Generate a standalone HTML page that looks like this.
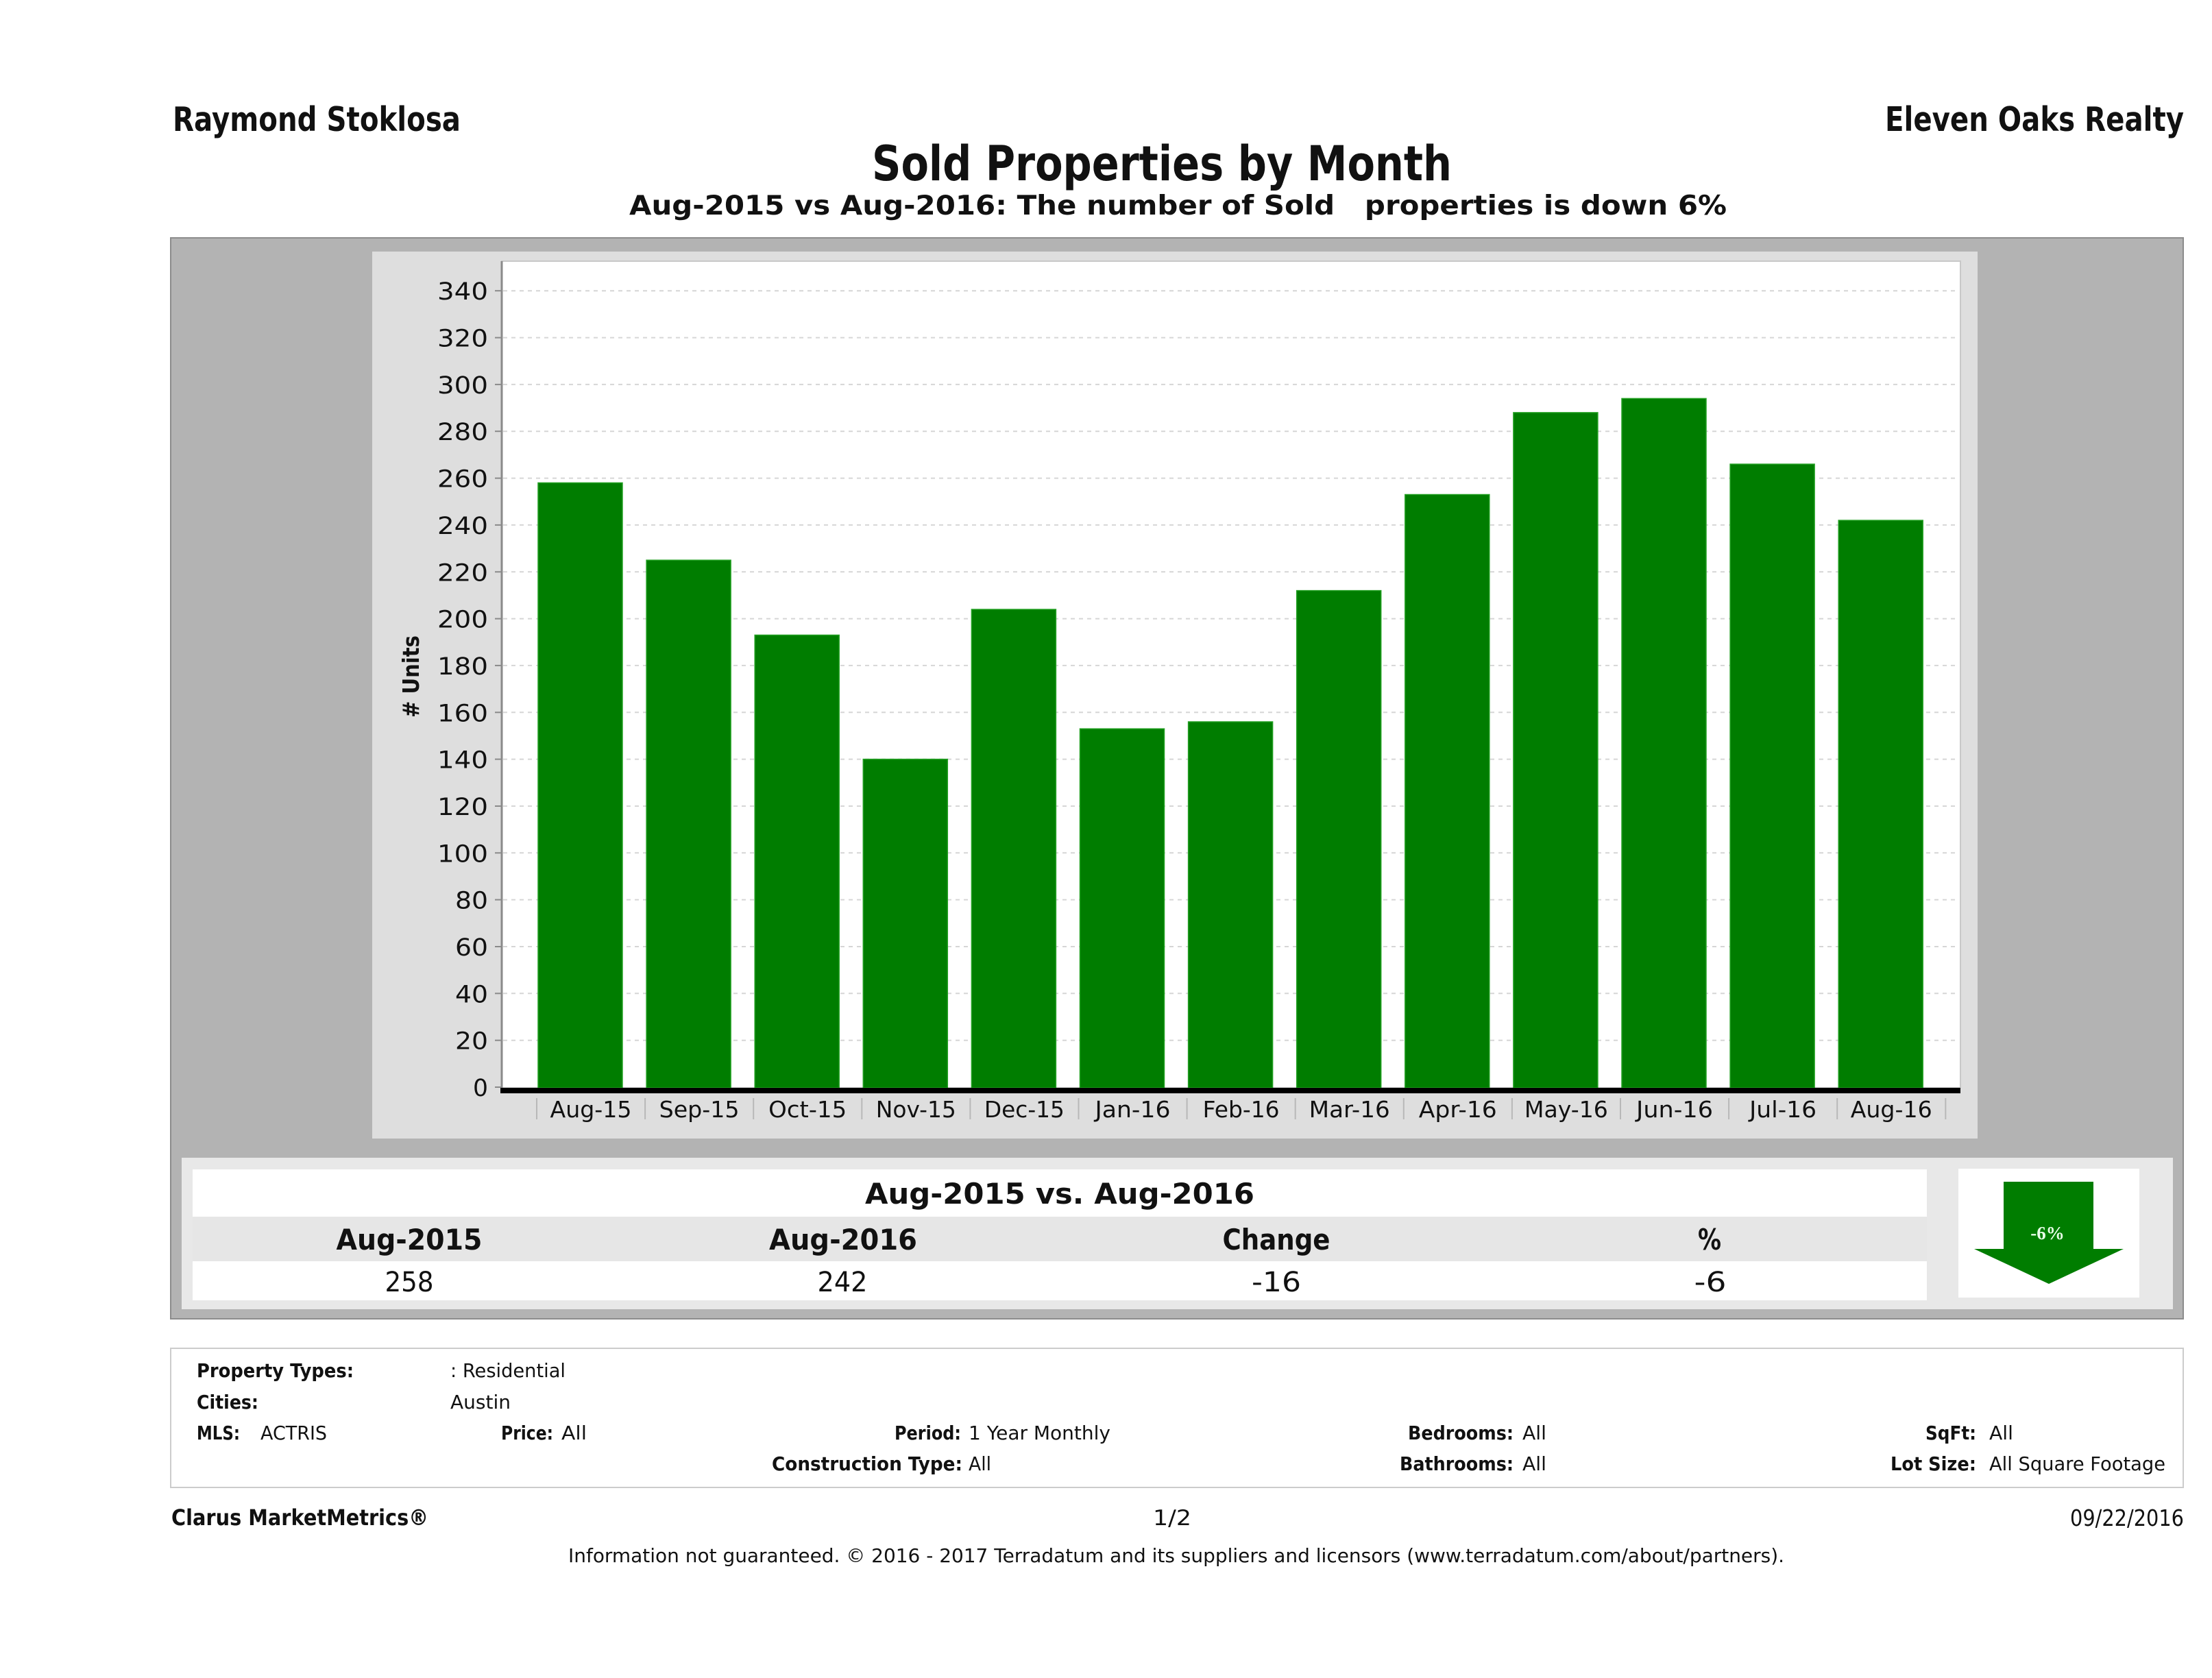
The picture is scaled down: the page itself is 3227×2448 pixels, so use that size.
<!DOCTYPE html>
<html>
<head>
<meta charset="utf-8">
<style>
html,body{margin:0;padding:0;background:#fff;}
svg{display:block;}
text{font-family:"DejaVu Sans","Liberation Sans",sans-serif;fill:#111;}
.b{font-weight:bold;}
</style>
</head>
<body>
<svg width="3227" height="2448" viewBox="0 0 3227 2448" xmlns="http://www.w3.org/2000/svg">
<rect x="0" y="0" width="3227" height="2448" fill="#ffffff"/>

<!-- Header -->
<text class="b" x="252" y="191" font-size="49" textLength="420" lengthAdjust="spacingAndGlyphs">Raymond Stoklosa</text>
<text class="b" x="2750" y="191" font-size="49" textLength="436" lengthAdjust="spacingAndGlyphs">Eleven Oaks Realty</text>
<text class="b" x="1272" y="263" font-size="70" textLength="846" lengthAdjust="spacingAndGlyphs">Sold Properties by Month</text>
<text class="b" x="918" y="313" font-size="39" textLength="1601" lengthAdjust="spacingAndGlyphs" xml:space="preserve">Aug-2015 vs Aug-2016: The number of Sold   properties is down 6%</text>

<!-- Outer gray panel -->
<rect x="249" y="347" width="2936" height="1577" fill="#b3b3b3" stroke="#8c8c8c" stroke-width="2"/>

<!-- Chart light panel -->
<rect x="543" y="367" width="2342" height="1294" fill="#dedede"/>

<!-- Plot area -->
<rect x="732" y="381" width="2128" height="1206" fill="#ffffff" stroke="#c8c8c8" stroke-width="2"/>

<!-- Gridlines -->
<g stroke="#d6d6d6" stroke-width="2" stroke-dasharray="6 6">
<line x1="734" x2="2858" y1="1517.7" y2="1517.7"/>
<line x1="734" x2="2858" y1="1449.3" y2="1449.3"/>
<line x1="734" x2="2858" y1="1381.0" y2="1381.0"/>
<line x1="734" x2="2858" y1="1312.6" y2="1312.6"/>
<line x1="734" x2="2858" y1="1244.3" y2="1244.3"/>
<line x1="734" x2="2858" y1="1176.0" y2="1176.0"/>
<line x1="734" x2="2858" y1="1107.6" y2="1107.6"/>
<line x1="734" x2="2858" y1="1039.3" y2="1039.3"/>
<line x1="734" x2="2858" y1="970.9" y2="970.9"/>
<line x1="734" x2="2858" y1="902.6" y2="902.6"/>
<line x1="734" x2="2858" y1="834.3" y2="834.3"/>
<line x1="734" x2="2858" y1="765.9" y2="765.9"/>
<line x1="734" x2="2858" y1="697.6" y2="697.6"/>
<line x1="734" x2="2858" y1="629.2" y2="629.2"/>
<line x1="734" x2="2858" y1="560.9" y2="560.9"/>
<line x1="734" x2="2858" y1="492.6" y2="492.6"/>
<line x1="734" x2="2858" y1="424.2" y2="424.2"/>
</g>

<!-- Bars -->
<g fill="#007d00" stroke="#22a022" stroke-width="1.5">
<rect x="785" y="704.4" width="123" height="882.6"/>
<rect x="943.1" y="817.2" width="123" height="769.8"/>
<rect x="1101.2" y="926.5" width="123" height="660.5"/>
<rect x="1259.3" y="1107.6" width="123" height="479.4"/>
<rect x="1417.4" y="889.0" width="123" height="698.0"/>
<rect x="1575.5" y="1063.2" width="123" height="523.8"/>
<rect x="1733.6" y="1053.0" width="123" height="534.0"/>
<rect x="1891.7" y="861.6" width="123" height="725.4"/>
<rect x="2049.8" y="721.5" width="123" height="865.5"/>
<rect x="2207.9" y="601.9" width="123" height="985.1"/>
<rect x="2366.0" y="581.4" width="123" height="1005.6"/>
<rect x="2524.1" y="677.1" width="123" height="909.9"/>
<rect x="2682.2" y="759.1" width="123" height="827.9"/>
</g>

<!-- Y axis line and ticks -->
<line x1="732" y1="381" x2="732" y2="1595" stroke="#8a8a8a" stroke-width="3"/>
<g stroke="#8a8a8a" stroke-width="2">
<line x1="722" x2="732" y1="1586" y2="1586"/>
<line x1="722" x2="732" y1="1517.7" y2="1517.7"/>
<line x1="722" x2="732" y1="1449.3" y2="1449.3"/>
<line x1="722" x2="732" y1="1381.0" y2="1381.0"/>
<line x1="722" x2="732" y1="1312.6" y2="1312.6"/>
<line x1="722" x2="732" y1="1244.3" y2="1244.3"/>
<line x1="722" x2="732" y1="1176.0" y2="1176.0"/>
<line x1="722" x2="732" y1="1107.6" y2="1107.6"/>
<line x1="722" x2="732" y1="1039.3" y2="1039.3"/>
<line x1="722" x2="732" y1="970.9" y2="970.9"/>
<line x1="722" x2="732" y1="902.6" y2="902.6"/>
<line x1="722" x2="732" y1="834.3" y2="834.3"/>
<line x1="722" x2="732" y1="765.9" y2="765.9"/>
<line x1="722" x2="732" y1="697.6" y2="697.6"/>
<line x1="722" x2="732" y1="629.2" y2="629.2"/>
<line x1="722" x2="732" y1="560.9" y2="560.9"/>
<line x1="722" x2="732" y1="492.6" y2="492.6"/>
<line x1="722" x2="732" y1="424.2" y2="424.2"/>
</g>

<!-- Y labels -->
<g font-size="35" text-anchor="end" fill="#1a1a1a">
<text x="712" y="1599" textLength="22" lengthAdjust="spacingAndGlyphs">0</text>
<text x="712" y="1530.7" textLength="48" lengthAdjust="spacingAndGlyphs">20</text>
<text x="712" y="1462.3" textLength="48" lengthAdjust="spacingAndGlyphs">40</text>
<text x="712" y="1394.0" textLength="48" lengthAdjust="spacingAndGlyphs">60</text>
<text x="712" y="1325.6" textLength="48" lengthAdjust="spacingAndGlyphs">80</text>
<text x="712" y="1257.3" textLength="74" lengthAdjust="spacingAndGlyphs">100</text>
<text x="712" y="1189.0" textLength="74" lengthAdjust="spacingAndGlyphs">120</text>
<text x="712" y="1120.6" textLength="74" lengthAdjust="spacingAndGlyphs">140</text>
<text x="712" y="1052.3" textLength="74" lengthAdjust="spacingAndGlyphs">160</text>
<text x="712" y="983.9" textLength="74" lengthAdjust="spacingAndGlyphs">180</text>
<text x="712" y="915.6" textLength="74" lengthAdjust="spacingAndGlyphs">200</text>
<text x="712" y="847.3" textLength="74" lengthAdjust="spacingAndGlyphs">220</text>
<text x="712" y="778.9" textLength="74" lengthAdjust="spacingAndGlyphs">240</text>
<text x="712" y="710.6" textLength="74" lengthAdjust="spacingAndGlyphs">260</text>
<text x="712" y="642.2" textLength="74" lengthAdjust="spacingAndGlyphs">280</text>
<text x="712" y="573.9" textLength="74" lengthAdjust="spacingAndGlyphs">300</text>
<text x="712" y="505.6" textLength="74" lengthAdjust="spacingAndGlyphs">320</text>
<text x="712" y="437.2" textLength="74" lengthAdjust="spacingAndGlyphs">340</text>
</g>

<!-- Y axis title -->
<text class="b" font-size="33" text-anchor="middle" transform="translate(611,987) rotate(-90)" textLength="120" lengthAdjust="spacingAndGlyphs"># Units</text>

<!-- X axis thick line -->
<rect x="730" y="1587" width="2130" height="8" fill="#000"/>

<!-- Category ticks -->
<g stroke="#b8b8b8" stroke-width="2">
<line x1="783" x2="783" y1="1602" y2="1633"/>
<line x1="941.1" x2="941.1" y1="1602" y2="1633"/>
<line x1="1099.2" x2="1099.2" y1="1602" y2="1633"/>
<line x1="1257.3" x2="1257.3" y1="1602" y2="1633"/>
<line x1="1415.4" x2="1415.4" y1="1602" y2="1633"/>
<line x1="1573.5" x2="1573.5" y1="1602" y2="1633"/>
<line x1="1731.6" x2="1731.6" y1="1602" y2="1633"/>
<line x1="1889.7" x2="1889.7" y1="1602" y2="1633"/>
<line x1="2047.8" x2="2047.8" y1="1602" y2="1633"/>
<line x1="2205.9" x2="2205.9" y1="1602" y2="1633"/>
<line x1="2364.0" x2="2364.0" y1="1602" y2="1633"/>
<line x1="2522.1" x2="2522.1" y1="1602" y2="1633"/>
<line x1="2680.2" x2="2680.2" y1="1602" y2="1633"/>
<line x1="2838.3" x2="2838.3" y1="1602" y2="1633"/>
</g>

<!-- X labels -->
<g font-size="33" text-anchor="middle" fill="#1a1a1a">
<text x="862" y="1630" textLength="119" lengthAdjust="spacingAndGlyphs">Aug-15</text>
<text x="1020.1" y="1630" textLength="117" lengthAdjust="spacingAndGlyphs">Sep-15</text>
<text x="1178.2" y="1630" textLength="114" lengthAdjust="spacingAndGlyphs">Oct-15</text>
<text x="1336.3" y="1630" textLength="117" lengthAdjust="spacingAndGlyphs">Nov-15</text>
<text x="1494.4" y="1630" textLength="117" lengthAdjust="spacingAndGlyphs">Dec-15</text>
<text x="1652.5" y="1630" textLength="110" lengthAdjust="spacingAndGlyphs">Jan-16</text>
<text x="1810.6" y="1630" textLength="112" lengthAdjust="spacingAndGlyphs">Feb-16</text>
<text x="1968.7" y="1630" textLength="118" lengthAdjust="spacingAndGlyphs">Mar-16</text>
<text x="2126.8" y="1630" textLength="114" lengthAdjust="spacingAndGlyphs">Apr-16</text>
<text x="2284.9" y="1630" textLength="122" lengthAdjust="spacingAndGlyphs">May-16</text>
<text x="2443.0" y="1630" textLength="112" lengthAdjust="spacingAndGlyphs">Jun-16</text>
<text x="2601.1" y="1630" textLength="98" lengthAdjust="spacingAndGlyphs">Jul-16</text>
<text x="2759.2" y="1630" textLength="119" lengthAdjust="spacingAndGlyphs">Aug-16</text>
</g>

<!-- Summary panel -->
<rect x="265" y="1689" width="2905" height="221" fill="#e8e8e8"/>
<rect x="281" y="1706" width="2530" height="69" fill="#ffffff"/>
<rect x="281" y="1775" width="2530" height="65" fill="#e6e6e6"/>
<rect x="281" y="1840" width="2530" height="57" fill="#ffffff"/>

<text class="b" x="1546" y="1756" font-size="42" text-anchor="middle" textLength="568" lengthAdjust="spacingAndGlyphs">Aug-2015 vs. Aug-2016</text>

<g class="b" font-size="42" text-anchor="middle" font-weight="bold">
<text x="597" y="1823" textLength="213" lengthAdjust="spacingAndGlyphs">Aug-2015</text>
<text x="1230" y="1823" textLength="216" lengthAdjust="spacingAndGlyphs">Aug-2016</text>
<text x="1862" y="1823" textLength="157" lengthAdjust="spacingAndGlyphs">Change</text>
<text x="2494" y="1823" textLength="34" lengthAdjust="spacingAndGlyphs">%</text>
</g>

<g font-size="40" text-anchor="middle">
<text x="597" y="1884" textLength="71" lengthAdjust="spacingAndGlyphs">258</text>
<text x="1229" y="1884" textLength="73" lengthAdjust="spacingAndGlyphs">242</text>
<text x="1862" y="1884" textLength="72" lengthAdjust="spacingAndGlyphs">-16</text>
<text x="2495" y="1884" textLength="47" lengthAdjust="spacingAndGlyphs">-6</text>
</g>

<!-- Arrow box -->
<rect x="2857" y="1705" width="264" height="188" fill="#ffffff"/>
<polygon points="2923,1724 3054,1724 3054,1822 3098,1822 2989,1873 2880,1822 2923,1822" fill="#007d00"/>
<text x="2987" y="1808" font-size="27" text-anchor="middle" font-weight="bold" style="font-family:'Liberation Serif','DejaVu Serif',serif;fill:#e8ffe8;">-6%</text>

<!-- Info box -->
<rect x="249" y="1967" width="2936" height="203" fill="#ffffff" stroke="#cccccc" stroke-width="2"/>

<g font-size="28">
<text class="b" x="287" y="2009" textLength="229" lengthAdjust="spacingAndGlyphs">Property Types:</text>
<text x="657" y="2009" textLength="168" lengthAdjust="spacingAndGlyphs">: Residential</text>

<text class="b" x="287" y="2055" textLength="90" lengthAdjust="spacingAndGlyphs">Cities:</text>
<text x="657" y="2055" textLength="88" lengthAdjust="spacingAndGlyphs">Austin</text>

<text class="b" x="287" y="2100" textLength="63" lengthAdjust="spacingAndGlyphs">MLS:</text>
<text x="380" y="2100" textLength="97" lengthAdjust="spacingAndGlyphs">ACTRIS</text>

<text class="b" x="731" y="2100" textLength="76" lengthAdjust="spacingAndGlyphs">Price:</text>
<text x="819" y="2100" textLength="37" lengthAdjust="spacingAndGlyphs">All</text>

<text class="b" x="1305" y="2100" textLength="97" lengthAdjust="spacingAndGlyphs">Period:</text>
<text x="1413" y="2100" textLength="207" lengthAdjust="spacingAndGlyphs">1 Year Monthly</text>

<text class="b" x="1126" y="2145" textLength="278" lengthAdjust="spacingAndGlyphs">Construction Type:</text>
<text x="1413" y="2145" textLength="33" lengthAdjust="spacingAndGlyphs">All</text>

<text class="b" x="2054" y="2100" textLength="154" lengthAdjust="spacingAndGlyphs">Bedrooms:</text>
<text x="2221" y="2100" textLength="35" lengthAdjust="spacingAndGlyphs">All</text>

<text class="b" x="2042" y="2145" textLength="166" lengthAdjust="spacingAndGlyphs">Bathrooms:</text>
<text x="2221" y="2145" textLength="35" lengthAdjust="spacingAndGlyphs">All</text>

<text class="b" x="2809" y="2100" textLength="74" lengthAdjust="spacingAndGlyphs">SqFt:</text>
<text x="2902" y="2100" textLength="35" lengthAdjust="spacingAndGlyphs">All</text>

<text class="b" x="2758" y="2145" textLength="125" lengthAdjust="spacingAndGlyphs">Lot Size:</text>
<text x="2902" y="2145" textLength="257" lengthAdjust="spacingAndGlyphs">All Square Footage</text>
</g>

<!-- Footer -->
<text class="b" x="250" y="2225" font-size="32" textLength="375" lengthAdjust="spacingAndGlyphs">Clarus MarketMetrics®</text>
<text x="1710" y="2225" font-size="31" text-anchor="middle" textLength="56" lengthAdjust="spacingAndGlyphs">1/2</text>
<text x="3186" y="2226" font-size="33" text-anchor="end" textLength="166" lengthAdjust="spacingAndGlyphs">09/22/2016</text>
<text x="829" y="2279" font-size="28" textLength="1774" lengthAdjust="spacingAndGlyphs">Information not guaranteed. © 2016 - 2017 Terradatum and its suppliers and licensors (www.terradatum.com/about/partners).</text>
</svg>
</body>
</html>
